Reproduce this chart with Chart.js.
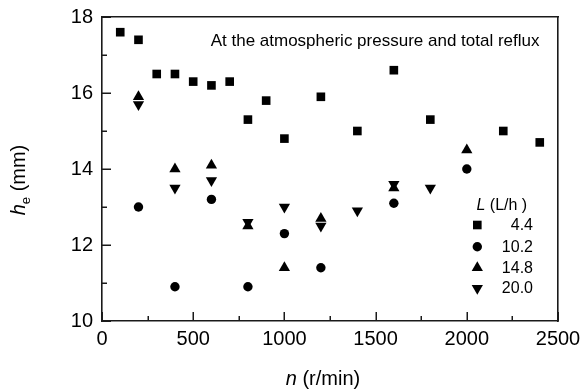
<!DOCTYPE html>
<html><head><meta charset="utf-8">
<script src="https://cdn.jsdelivr.net/npm/chart.js@4/dist/chart.umd.min.js"></script>
<style>html,body{margin:0;padding:0;background:#fff}canvas{display:block}</style>
</head><body>
<canvas id="c" width="580" height="391"></canvas>
<script>
// ---- data ----
const xTickValues = [0, 500, 1000, 1500, 2000, 2500];
const yTickValues = [10, 12, 14, 16, 18];
const seriesLabels = ['4.4', '10.2', '14.8', '20.0'];

const n_44 = [100, 200, 300, 400, 500, 600, 700, 800, 900, 1000, 1200, 1400, 1600, 1800, 2200, 2400];
const h_44 = [17.6, 17.4, 16.5, 16.5, 16.3, 16.2, 16.3, 15.3, 15.8, 14.8, 15.9, 15.0, 16.6, 15.3, 15.0, 14.7];

const n_102 = [200, 400, 600, 800, 1000, 1200, 1600, 2000];
const h_102 = [13.0, 10.9, 13.2, 10.9, 12.3, 11.4, 13.1, 14.0];

const n_148 = [200, 400, 600, 800, 1000, 1200, 1600, 2000];
const h_148 = [15.9, 14.0, 14.1, 12.5, 11.4, 12.7, 13.5, 14.5];

const n_200 = [200, 400, 600, 800, 1000, 1200, 1400, 1600, 1800];
const h_200 = [15.7, 13.5, 13.7, 12.6, 13.0, 12.5, 12.9, 13.6, 13.5];

const annotationText = 'At the atmospheric pressure and total reflux';

// ---- styles ----
const FONT = '"Liberation Sans", Arial, Helvetica, sans-serif';
const INK = '#000';
const styles = [
  { pointStyle: 'rect', radius: 6.1, rotation: 0 },
  { pointStyle: 'circle', radius: 4.7, rotation: 0 },
  { pointStyle: 'triangle', radius: 6.5, rotation: 0 },
  { pointStyle: 'triangle', radius: 6.5, rotation: 180 }
];
const seriesX = [n_44, n_102, n_148, n_200];
const seriesY = [h_44, h_102, h_148, h_200];

const datasets = seriesLabels.map((lab, i) => ({
  label: lab,
  data: seriesX[i].map((x, j) => ({ x: x, y: seriesY[i][j] })),
  showLine: false,
  pointStyle: styles[i].pointStyle,
  pointRadius: styles[i].radius,
  pointRotation: styles[i].rotation,
  pointBackgroundColor: INK,
  pointBorderColor: INK,
  pointBorderWidth: 0,
  pointHoverRadius: styles[i].radius
}));

function drawSymbol(ctx, st, x, y) {
  const opts = { pointStyle: st.pointStyle, radius: st.radius, rotation: st.rotation, borderWidth: 0 };
  ctx.save();
  ctx.fillStyle = INK; ctx.strokeStyle = INK;
  if (Chart.helpers && Chart.helpers.drawPoint) {
    Chart.helpers.drawPoint(ctx, opts, x, y);
  } else {
    ctx.beginPath(); ctx.arc(x, y, st.radius, 0, Math.PI * 2); ctx.fill();
  }
  ctx.restore();
}

const tickMarks = {
  id: 'tickMarks',
  beforeDatasetsDraw(chart) {
    const ctx = chart.ctx;
    const a = chart.chartArea;
    const xs = chart.scales.x, ys = chart.scales.y;
    ctx.save();
    ctx.fillStyle = '#1a1a1a';
    for (let v = 0; v <= 2500; v += 250) {
      const px = Math.round(xs.getPixelForValue(v));
      const len = (v % 500 === 0) ? 9 : 5;
      ctx.fillRect(px - 0.5, a.bottom - len, 1.5, len);
    }
    for (let v = 10; v <= 18; v += 1) {
      const py = Math.round(ys.getPixelForValue(v));
      const len = (v % 2 === 0) ? 9 : 5;
      ctx.fillRect(a.left, py - 0.5, len, 1.5);
    }
    ctx.restore();
  }
};

const decor = {
  id: 'decor',
  afterDraw(chart) {
    const ctx = chart.ctx;
    ctx.save();
    ctx.fillStyle = INK;
    // annotation
    ctx.font = '17px ' + FONT;
    ctx.textAlign = 'right'; ctx.textBaseline = 'alphabetic';
    ctx.fillText(annotationText, 539.5, 46);

    // x title: n (r/min)
    ctx.textAlign = 'left';
    ctx.font = 'italic 20px ' + FONT;
    const nW = ctx.measureText('n').width;
    ctx.font = '20px ' + FONT;
    const restW = ctx.measureText(' (r/min)').width;
    let x0 = 323 - (nW + restW) / 2;
    ctx.font = 'italic 20px ' + FONT;
    ctx.fillText('n', x0, 385);
    ctx.font = '20px ' + FONT;
    ctx.fillText(' (r/min)', x0 + nW, 385);

    // y title: h_e (mm)
    ctx.save();
    ctx.translate(25, 180);
    ctx.rotate(-Math.PI / 2);
    ctx.font = 'italic 20px ' + FONT;
    const hW = ctx.measureText('h').width;
    ctx.font = '13px ' + FONT;
    const eW = ctx.measureText('e').width;
    ctx.font = '20px ' + FONT;
    const mmW = ctx.measureText(' (mm)').width;
    let y0 = -(hW + eW + mmW) / 2;
    ctx.textAlign = 'left'; ctx.textBaseline = 'alphabetic';
    ctx.font = 'italic 20px ' + FONT;
    ctx.fillText('h', y0, 0);
    ctx.font = '13px ' + FONT;
    ctx.fillText('e', y0 + hW, 5);
    ctx.font = '20px ' + FONT;
    ctx.fillText(' (mm)', y0 + hW + eW, 0);
    ctx.restore();

    // legend
    ctx.textBaseline = 'middle';
    ctx.textAlign = 'left';
    ctx.font = 'italic 16px ' + FONT;
    const LW = ctx.measureText('L').width;
    ctx.fillText('L', 476.5, 206);
    ctx.font = '16px ' + FONT;
    ctx.fillText(' (L/h )', 476.5 + LW, 206);
    const rows = [225, 246.7, 267.7, 288.3];
    seriesLabels.forEach((lab, i) => {
      drawSymbol(ctx, styles[i], 477.3, rows[i]);
      ctx.textAlign = 'right';
      ctx.font = '16px ' + FONT;
      ctx.fillStyle = INK;
      ctx.fillText(lab, 533, rows[i] + 0.5);
    });
    ctx.restore();
  }
};

const BORDER = { display: true, color: '#1a1a1a', width: 1.6 };

new Chart(document.getElementById('c'), {
  type: 'scatter',
  data: { datasets: datasets },
  plugins: [tickMarks, decor],
  options: {
    responsive: false,
    animation: false,
    devicePixelRatio: 1,
    layout: { padding: { left: 0, right: 22, top: 17, bottom: 0 } },
    plugins: { legend: { display: false }, tooltip: { enabled: false } },
    scales: {
      x: {
        type: 'linear', min: 0, max: 2500,
        afterBuildTicks: s => { s.ticks = xTickValues.map(v => ({ value: v })); },
        afterFit: s => { s.height = 70; s.paddingLeft = 0; s.paddingRight = 0; },
        grid: { display: false, drawTicks: false },
        border: BORDER,
        ticks: { color: INK, padding: 6, font: { family: FONT, size: 20 }, maxRotation: 0, autoSkip: false,
                 callback: v => String(v) }
      },
      y: {
        type: 'linear', min: 10, max: 18,
        afterBuildTicks: s => { s.ticks = yTickValues.map(v => ({ value: v })); },
        afterFit: s => { s.width = 102; s.paddingTop = 0; s.paddingBottom = 0; },
        grid: { display: false, drawTicks: false },
        border: BORDER,
        ticks: { color: INK, padding: 9, font: { family: FONT, size: 20 }, callback: v => String(v) }
      },
      x2: {
        type: 'linear', position: 'top', min: 0, max: 2500,
        afterFit: s => { s.height = 0; s.paddingLeft = 0; s.paddingRight = 0; },
        grid: { display: false, drawTicks: false },
        border: BORDER,
        ticks: { display: false }
      },
      y2: {
        type: 'linear', position: 'right', min: 10, max: 18,
        afterFit: s => { s.width = 0; s.paddingTop = 0; s.paddingBottom = 0; },
        grid: { display: false, drawTicks: false },
        border: BORDER,
        ticks: { display: false }
      }
    }
  }
});
</script>
</body></html>
